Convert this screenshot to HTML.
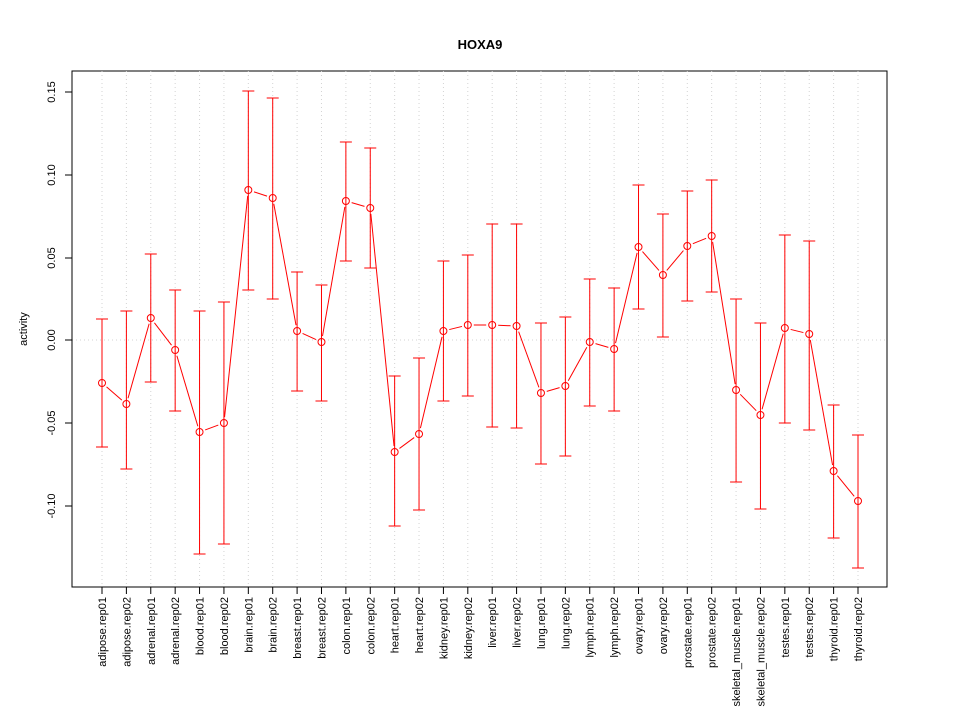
<!DOCTYPE html>
<html><head><meta charset="utf-8"><style>body{margin:0;background:#fff}svg{display:block}text{font-family:"Liberation Sans",sans-serif}</style></head>
<body>
<svg id="s" width="960" height="720" xmlns="http://www.w3.org/2000/svg">
<rect width="960" height="720" fill="#fff"/>
<text x="480" y="49" text-anchor="middle" font-size="13" font-weight="bold">HOXA9</text>
<rect x="72" y="71" width="815" height="516" fill="none" stroke="#000" stroke-width="1"/>
<text x="27" y="329" transform="rotate(-90 27 329)" text-anchor="middle" font-size="11">activity</text>
<g id="g"></g>
</svg>
<script>
const d=[["adipose.rep01",383,319,447],["adipose.rep02",404,311,469],["adrenal.rep01",318,254,382],["adrenal.rep02",350,290,411],["blood.rep01",432,311,554],["blood.rep02",423,302,544],["brain.rep01",190,91,290],["brain.rep02",198,98,299],["breast.rep01",331,272,391],["breast.rep02",342,285,401],["colon.rep01",201,142,261],["colon.rep02",208,148,268],["heart.rep01",452,376,526],["heart.rep02",434,358,510],["kidney.rep01",331,261,401],["kidney.rep02",325,255,396],["liver.rep01",325,224,427],["liver.rep02",326,224,428],["lung.rep01",393,323,464],["lung.rep02",386,317,456],["lymph.rep01",342,279,406],["lymph.rep02",349,288,411],["ovary.rep01",247,185,309],["ovary.rep02",275,214,337],["prostate.rep01",246,191,301],["prostate.rep02",236,180,292],["skeletal_muscle.rep01",390,299,482],["skeletal_muscle.rep02",415,323,509],["testes.rep01",328,235,423],["testes.rep02",334,241,430],["thyroid.rep01",471,405,538],["thyroid.rep02",501,435,568]];
let h='';const X=i=>102+i*756/31;
d.forEach((r,i)=>{const x=X(i);h+=`<line x1="${x}" y1="71" x2="${x}" y2="587" stroke="#d3d3d3" stroke-dasharray="1,3"/>`;});
h+=`<line x1="72" y1="340" x2="887" y2="340" stroke="#d3d3d3" stroke-dasharray="1,3"/>`;
[[0.15,92],[0.10,175],[0.05,258],[0.00,340],[-0.05,423],[-0.10,506]].forEach(([v,y])=>{h+=`<line x1="65" y1="${y}" x2="72" y2="${y}" stroke="#000"/><text x="55" y="${y}" transform="rotate(-90 55 ${y})" text-anchor="middle" font-size="11">${v.toFixed(2)}</text>`;});
h+=`<line x1="72" y1="92" x2="72" y2="506" stroke="#000"/>`;
d.forEach((r,i)=>{const x=X(i);h+=`<line x1="${x}" y1="587" x2="${x}" y2="594" stroke="#000"/><text x="${x+4}" y="597" transform="rotate(-90 ${x+4} 597)" text-anchor="end" font-size="11">${r[0]}</text>`;
h+=`<line x1="${x}" y1="${r[2]}" x2="${x}" y2="${r[3]}" stroke="#f00"/><line x1="${x-6}" y1="${r[2]}" x2="${x+6}" y2="${r[2]}" stroke="#f00"/><line x1="${x-6}" y1="${r[3]}" x2="${x+6}" y2="${r[3]}" stroke="#f00"/><circle cx="${x}" cy="${r[1]}" r="3.5" fill="none" stroke="#f00"/>`;
if(i<d.length-1){const x2=X(i+1),y1=r[1],y2=d[i+1][1],dx=x2-x,dy=y2-y1,L=Math.hypot(dx,dy);if(L>12){const ux=dx/L,uy=dy/L;h+=`<line x1="${x+ux*6}" y1="${y1+uy*6}" x2="${x2-ux*6}" y2="${y2-uy*6}" stroke="#f00"/>`;}}});
document.getElementById('g').innerHTML=h;
</script>
</body></html>
